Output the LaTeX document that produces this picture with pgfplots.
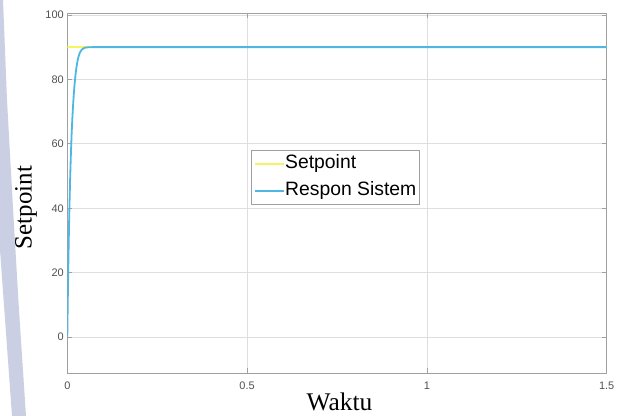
\documentclass[border=0pt]{standalone}
\usepackage{fontspec}
\setmainfont{Liberation Serif}
\newfontfamily\arial{Liberation Sans}
\usepackage{pgfplots}
\pgfplotsset{compat=1.18}
\definecolor{spyellow}{RGB}{245,245,95}
\definecolor{resblue}{RGB}{77,182,226}
\definecolor{gridgray}{RGB}{222,222,222}
\definecolor{axgray}{RGB}{160,160,160}
\definecolor{tickgray}{RGB}{80,80,80}
\definecolor{band}{RGB}{203,207,228}
\begin{document}
\begin{tikzpicture}
\path[use as bounding box] (0,0) rectangle (622bp,-416bp);
\fill[band] (0bp,0bp) -- (3bp,0bp) -- (7bp,-100bp) -- (13bp,-208bp) -- (19bp,-310bp) -- (26bp,-416bp) -- (12bp,-416bp) -- (0bp,-250bp) -- cycle;
\begin{axis}[
  at={(67.3bp,-373.3bp)}, anchor=south west,
  scale only axis, width=539.4bp, height=360bp,
  xmin=0, xmax=1.5, ymin=-11.2, ymax=100.5,
  xtick={0,0.5,1,1.5}, xticklabels={0,0.5,1,1.5},
  ytick={0,20,40,60,80,100},
  grid=major, major grid style={gridgray, line width=0.8bp},
  axis line style={axgray, line width=0.8bp},
  tick align=inside, major tick length=5bp, tick style={axgray, line width=0.8bp},
  ticklabel style={font=\arial\fontsize{11}{12}\selectfont, text=tickgray},
  /pgf/number format/assume math mode=true,
  xticklabel style={yshift=-5bp},
  legend style={at={(0.3406,0.6203)}, anchor=north west, draw=axgray, line width=0.8bp,
    font=\arial\fontsize{19.4}{22}\selectfont,
    nodes={inner sep=0bp, text height=14bp, text depth=4bp},
    row sep=9bp, inner xsep=3bp, inner ysep=4.5bp},
  legend cell align=left,
  legend image code/.code={\draw[#1] (0bp,0bp) -- (29bp,0bp);},
]
\addplot[spyellow, line width=1.8bp] coordinates {(0,90) (1.5,90)};
\addlegendentry{Setpoint}
\addplot[resblue, line width=1.8bp] coordinates {
(0,0) (0.001,8.6) (0.002,16.3) (0.003,23.3) (0.004,29.7) (0.005,35.4)
(0.006,40.6) (0.008,49.6) (0.010,56.9) (0.012,62.9) (0.014,67.8)
(0.016,71.8) (0.018,75.3) (0.020,78.2) (0.023,81.6) (0.026,84.2)
(0.030,86.6) (0.035,88.3) (0.040,89.2) (0.045,89.6) (0.050,89.85)
(0.060,89.97) (0.070,90) (1.5,90)};
\addlegendentry{Respon Sistem}
\end{axis}
\node[rotate=90, anchor=base, font=\fontsize{25}{30}\selectfont] at (31.5bp,-207.5bp) {Setpoint};
\node[anchor=base, font=\fontsize{25.5}{30}\selectfont] at (339.5bp,-410bp) {Waktu};
\end{tikzpicture}
\end{document}
